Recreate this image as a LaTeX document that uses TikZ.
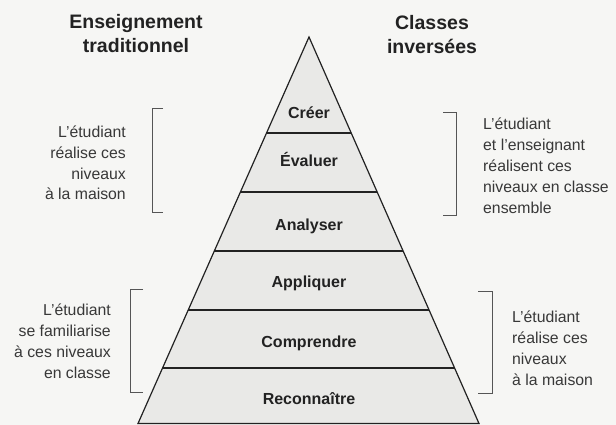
\documentclass[tikz,border=0pt]{standalone}
\usepackage{fontspec}
\setmainfont{Liberation Sans}
\usetikzlibrary{calc}
\definecolor{bgc}{HTML}{F6F6F4}
\definecolor{pyr}{HTML}{E9E9E7}
\definecolor{ink}{HTML}{222222}
\definecolor{brkc}{HTML}{555555}
\begin{document}
\begin{tikzpicture}[x=1pt,y=-1pt,
  level/.style={font=\bfseries\fontsize{16}{19}\selectfont, anchor=base, inner sep=0pt, text=ink},
  side/.style={font=\fontsize{15.8}{20.8}\selectfont, inner sep=0pt, text=ink!90},
  head/.style={font=\bfseries\fontsize{19.5}{24}\selectfont, align=center, anchor=base, inner sep=0pt, text=ink},
  brk/.style={draw=brkc, line width=0.9pt},
  edgeline/.style={draw=ink, line width=1.2pt}]
\fill[bgc] (0,0) rectangle (616,425);
\useasboundingbox (0,0) rectangle (616,425);
% pyramid
\coordinate (apex) at (309,37);
\coordinate (bl) at (138,423.5);
\coordinate (br) at (479,423.5);
\fill[pyr] (apex) -- (bl) -- (br) -- cycle;
\foreach \yy/\k in {133/a,192/b,251/c,310/d,368/e} {
  \coordinate (l\k) at ($(apex)!{(\yy-37)/386.5}!(bl)$);
  \coordinate (r\k) at ($(apex)!{(\yy-37)/386.5}!(br)$);
}
\foreach \k in {a,b,c,d,e} { \draw[edgeline] (l\k) -- (r\k); }
\draw[edgeline, line join=miter] (apex) -- (bl) -- (br) -- cycle;
% level labels
\node[level] (creer) at (309,119) {Créer};
\node[level] (evaluer) at (309,167) {Évaluer};
\node[level] (analyser) at (309,230) {Analyser};
\node[level] (appliquer) at (309,287) {Appliquer};
\node[level] (comprendre) at (309,347) {Comprendre};
\node[level] (reconnaitre) at (309,404) {Reconnaître};
% headings (base anchor = last line)
\node[head] (hl) at (136,53) {Enseignement\\traditionnel};
\node[head] (hr) at (432,54) {Classes\\inversées};
% brackets
\draw[brk] (163,108) -- (152,108) -- (152,212) -- (163,212);
\draw[brk] (443,112) -- (456,112) -- (456,215) -- (443,215);
\draw[brk] (143,289) -- (130,289) -- (130,392) -- (143,392);
\draw[brk] (478,291) -- (492,291) -- (492,393) -- (478,393);
% side texts (base anchor = last line)
\node[side, align=right, anchor=base east] (tl1) at (126,200) {L’étudiant\\réalise ces\\niveaux\\à la maison};
\node[side, align=left, anchor=base west] (tr1) at (483,213) {L’étudiant\\et l’enseignant\\réalisent ces\\niveaux en classe\\ensemble};
\node[side, align=right, anchor=base east] (tl2) at (111,378) {L’étudiant\\se familiarise\\à ces niveaux\\en classe};
\node[side, align=left, anchor=base west] (tr2) at (512,385) {L’étudiant\\réalise ces\\niveaux\\à la maison};
\end{tikzpicture}
\end{document}
